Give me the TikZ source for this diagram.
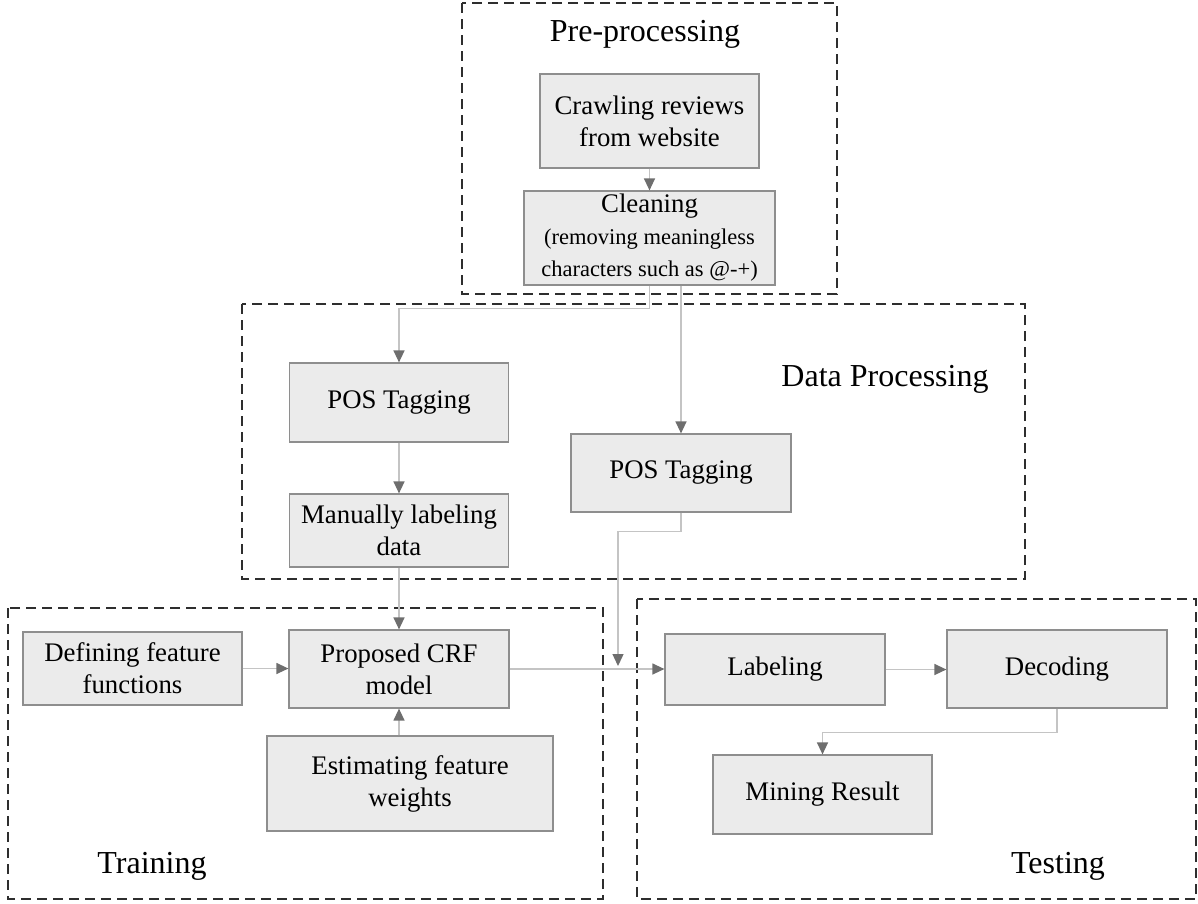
\documentclass[tikz,border=0pt]{standalone}
\usepackage{fontspec}
\setmainfont{Liberation Serif}
\usetikzlibrary{arrows.meta,positioning,calc}

\definecolor{boxfill}{HTML}{EBEBEB}
\definecolor{boxline}{HTML}{8E8E8E}
\definecolor{linegray}{HTML}{C4C4C4}
\definecolor{tipgray}{HTML}{6E6E6E}
\definecolor{dashgray}{HTML}{2E2E2E}
\newcommand{\boxtxt}{\fontsize{26.8}{32}\selectfont}
\newcommand{\subtxt}{\fontsize{22.5}{29}\selectfont}

\begin{document}
\begin{tikzpicture}[x=1pt, y=-1pt, >={Triangle[length=12pt,width=11pt,color=tipgray]},
  box/.style={draw=boxline, fill=boxfill, line width=1.2pt, align=center, inner sep=0pt, font=\boxtxt},
  flow/.style={->, draw=linegray, line width=1.3pt},
  group/.style={draw=dashgray, line width=1.8pt, dash pattern=on 10pt off 6pt},
  grouplabel/.style={font=\fontsize{32}{38}\selectfont}]
  \useasboundingbox (0,0) rectangle (1198,903);

  % 分组虚线框
  \draw[group] (462,3) rectangle (837,294);
  \draw[group] (242,304) rectangle (1025,579);
  \draw[group] (8,608) rectangle (603,899);
  \draw[group] (637,599) rectangle (1196,899);
  \node[grouplabel] (prelbl) at (645,34) {Pre-processing};
  \node[grouplabel] (datalbl) at (885,379) {Data Processing};
  \node[grouplabel] (trainlbl) at (152,866) {Training};
  \node[grouplabel] (testlbl) at (1058,866) {Testing};

  % 预处理
  \node[box, minimum width=219pt, minimum height=94pt] (crawl) at (649.5,121) {Crawling reviews\\from website};
  \node[box, minimum width=251pt, minimum height=94pt] (clean) at (649.5,238)
    {Cleaning\\\subtxt (removing meaningless\\\subtxt characters such as @-+)};

  % 数据处理
  \node[box, minimum width=219pt, minimum height=79pt] (posa) at (399,402.5) {POS Tagging};
  \node[box, minimum width=219pt, minimum height=73pt] (manual) at (399,530.5) {Manually labeling\\data};
  \node[box, minimum width=220pt, minimum height=78pt] (posb) at (681,473) {POS Tagging};

  % 训练
  \node[box, minimum width=219pt, minimum height=73pt] (define) at (132.5,668.5) {Defining feature\\functions};
  \node[box, minimum width=220pt, minimum height=78pt] (crf) at (399,669) {Proposed CRF\\model};
  \node[box, minimum width=286pt, minimum height=95pt] (est) at (410,783.5) {Estimating feature\\weights};

  % 测试
  \node[box, minimum width=220pt, minimum height=71pt] (label) at (775,669.5) {Labeling};
  \node[box, minimum width=220pt, minimum height=78pt] (decod) at (1057,669) {Decoding};
  \node[box, minimum width=219pt, minimum height=79pt] (mining) at (822.5,794.5) {Mining Result};

  \coordinate (tipend) at (618,666);

  % 连线
  \draw[flow] (crawl) -- (clean);
  \draw[flow] (clean.south) -- ++(0,23) -| (posa.north);
  \draw[flow] (clean.south -| posb.north) -- (posb.north);
  \draw[flow] (posa) -- (manual);
  \draw[flow] (manual.south) -- (crf.north);
  \draw[flow] (define.east) -- (crf.west |- define.east);
  \draw[flow] (crf.south |- est.north) -- (crf.south);
  \draw[flow] (posb.south) -- ++(0,19) -| (tipend);
  \draw[flow] (crf.east) -- (label.west |- crf.east);
  \draw[flow] (label.east) -- (decod.west |- label.east);
  \draw[flow] (decod.south) -- ++(0,24) -| (mining.north);
\end{tikzpicture}
\end{document}
